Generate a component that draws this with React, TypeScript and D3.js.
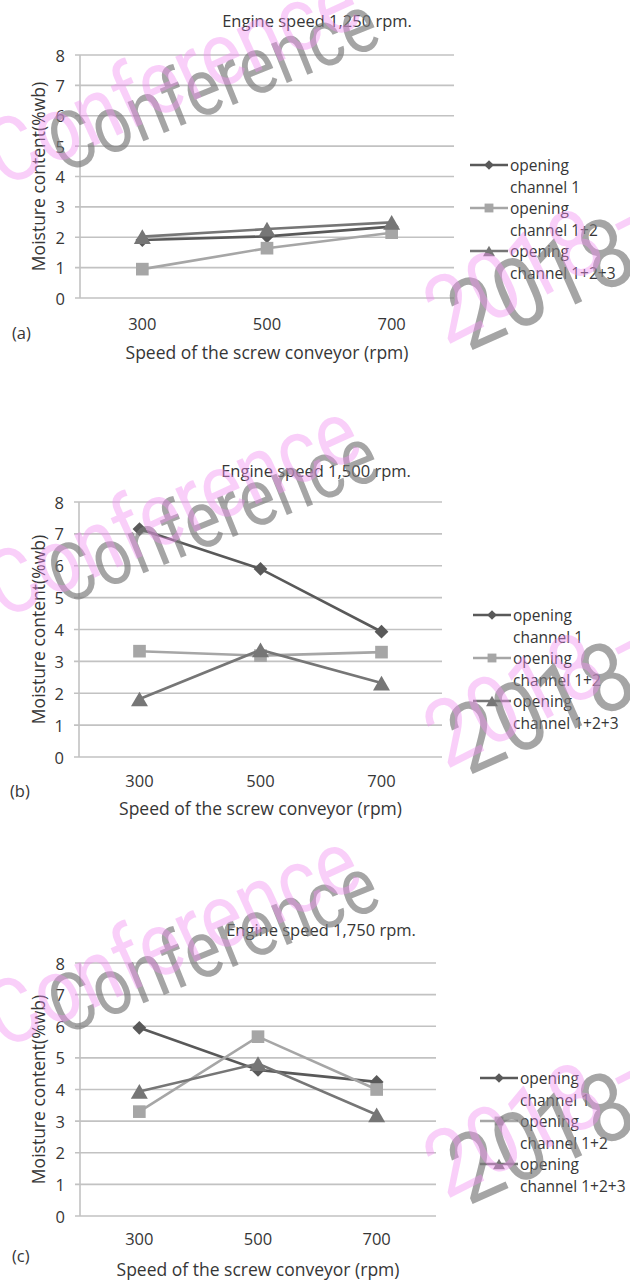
import React from 'react';
import * as d3 from 'd3';

// conveyor speeds (x categories)
const speeds = ['300', '500', '700'];
const yTicks = [0, 1, 2, 3, 4, 5, 6, 7, 8];
const legendLabels = [
  ['opening', 'channel 1'],
  ['opening', 'channel 1+2'],
  ['opening', 'channel 1+2+3'],
];

// moisture content (%wb), engine speed 1,250 rpm
const ch1At1250 = [1.91, 2.03, 2.35];
const ch12At1250 = [0.95, 1.64, 2.15];
const ch123At1250 = [2.02, 2.27, 2.49];

// engine speed 1,500 rpm
const ch1At1500 = [7.15, 5.9, 3.93];
const ch12At1500 = [3.32, 3.18, 3.29];
const ch123At1500 = [1.82, 3.36, 2.32];

// engine speed 1,750 rpm
const ch1At1750 = [5.95, 4.62, 4.24];
const ch12At1750 = [3.3, 5.67, 4.0];
const ch123At1750 = [3.94, 4.82, 3.2];

const W = 630;
const H = 1281;
const FONT = '"Open Sans", "DejaVu Sans", sans-serif';
const WM_FONT = 'Roboto, "Liberation Sans", sans-serif';
const TEXT = '#363636';
const GRID = '#c2c2c2';
const colors = ['#595959', '#a6a6a6', '#767676'];
const shapes = ['diamond', 'square', 'triangle'];

const panels = [
  {
    title: 'Engine speed 1,250 rpm.', tag: '(a)',
    series: [ch1At1250, ch12At1250, ch123At1250],
    left: 80, right: 454, top: 55, bottom: 298,
    titleX: 317, titleY: 20, tagX: 12, tagY: 332,
    tickY: 323, axisTitleY: 352, legendX: 470, legendY: 165, wmY: 0, wm2Y: 0,
  },
  {
    title: 'Engine speed 1,500 rpm.', tag: '(b)',
    series: [ch1At1500, ch12At1500, ch123At1500],
    left: 79, right: 442, top: 502, bottom: 757,
    titleX: 316, titleY: 470, tagX: 10, tagY: 790,
    tickY: 780, axisTitleY: 808, legendX: 473, legendY: 615, wmY: 432, wm2Y: 424,
  },
  {
    title: 'Engine speed 1,750 rpm.', tag: '(c)',
    series: [ch1At1750, ch12At1750, ch123At1750],
    left: 80, right: 436, top: 963, bottom: 1216,
    titleX: 321, titleY: 929, tagX: 12, tagY: 1255,
    tickY: 1238, axisTitleY: 1269, legendX: 480, legendY: 1078, wmY: 862, wm2Y: 854,
  },
];

function marker(shape: string, k: number) {
  if (shape === 'diamond') {
    return { d: d3.symbol(d3.symbolSquare, 95 * k * k)()!, t: 'rotate(45)' };
  }
  if (shape === 'square') {
    return { d: d3.symbol(d3.symbolSquare, 160 * k * k)()!, t: '' };
  }
  const size = 125 * k * k;
  const r = Math.sqrt(size / (3 * Math.sqrt(3)));
  return { d: d3.symbol(d3.symbolTriangle, size)()!, t: `translate(0,${r / 2})` };
}

function Panel({ p }: { p: any }) {
  const x = d3.scalePoint<string>().domain(speeds).range([p.left, p.right]).padding(0.5);
  const y = d3.scaleLinear().domain([0, 8]).range([p.bottom, p.top]);
  const line = d3.line<number>().x((_, i) => x(speeds[i])!).y(d => y(d));

  return (
    <g>
      <text x={p.titleX} y={p.titleY} textAnchor="middle" dominantBaseline="central"
        fontSize={16.5} fill={TEXT}>{p.title}</text>

      {yTicks.map(t => (
        <g key={t}>
          <line x1={p.left - 5} x2={p.right} y1={y(t)} y2={y(t)} stroke={GRID} strokeWidth={1.6} />
          <text x={p.left - 15} y={y(t)} textAnchor="end" dominantBaseline="central"
            fontSize={16.5} fill={TEXT}>{t}</text>
        </g>
      ))}
      <line x1={p.left} x2={p.left} y1={y(8)} y2={y(0)} stroke={GRID} strokeWidth={1.6} />

      {speeds.map(s => (
        <text key={s} x={x(s)} y={p.tickY} textAnchor="middle" dominantBaseline="central"
          fontSize={16.5} fill={TEXT}>{s}</text>
      ))}

      <text x={(p.left + p.right) / 2} y={p.axisTitleY} textAnchor="middle" dominantBaseline="central"
        fontSize={17.5} fill={TEXT}>Speed of the screw conveyor (rpm)</text>
      <text transform={`translate(38,${(p.top + p.bottom) / 2}) rotate(-90)`} textAnchor="middle"
        dominantBaseline="central" fontSize={17.5} fill={TEXT}>Moisture content(%wb)</text>
      <text x={p.tagX} y={p.tagY} dominantBaseline="central" fontSize={16.5} fill={TEXT}>{p.tag}</text>

      {p.series.map((vals: number[], si: number) => {
        const m = marker(shapes[si], 1);
        return (
          <g key={si}>
            <path d={line(vals)!} fill="none" stroke={colors[si]} strokeWidth={2.6} />
            {vals.map((v, i) => (
              <g key={i} transform={`translate(${x(speeds[i])},${y(v)})`}>
                <path d={m.d} transform={m.t} fill={colors[si]} />
              </g>
            ))}
          </g>
        );
      })}

      {legendLabels.map((lab, i) => {
        const ly = p.legendY + i * 43;
        const m = marker(shapes[i], 0.7);
        return (
          <g key={i}>
            <line x1={p.legendX} x2={p.legendX + 38} y1={ly} y2={ly} stroke={colors[i]} strokeWidth={2.6} />
            <g transform={`translate(${p.legendX + 19},${ly})`}>
              <path d={m.d} transform={m.t} fill={colors[i]} />
            </g>
            <text x={p.legendX + 40} y={ly} dominantBaseline="central" fontSize={15.5} fill={TEXT}>{lab[0]}</text>
            <text x={p.legendX + 40} y={ly + 21.5} dominantBaseline="central" fontSize={15.5} fill={TEXT}>{lab[1]}</text>
          </g>
        );
      })}
    </g>
  );
}

function Watermark({ dy, dy2 }: { dy: number; dy2: number }) {
  const gray = '#7a7a7a';
  const pink = '#f08cf0';
  return (
    <g fontFamily={WM_FONT}>
      <g transform={`translate(0,${dy})`}>
        <text transform="translate(62,174) rotate(-22) scale(0.85,1)" fontSize={80}
          fill={gray} fillOpacity={0.68}>Conference</text>
        <text transform="translate(2,188) rotate(-24.5) scale(0.87,1)" fontSize={90}
          fill={pink} fillOpacity={0.42}>Conference</text>
      </g>
      <g transform={`translate(0,${dy2})`}>
        <text transform="translate(468,352) rotate(-24) scale(0.88,1)" fontSize={96}
          fill={gray} fillOpacity={0.68}>2018 -</text>
        <text transform="translate(446,346) rotate(-27) scale(0.88,1)" fontSize={93}
          fill={pink} fillOpacity={0.42}>2018 -</text>
      </g>
    </g>
  );
}

export default function App() {
  return (
    <svg width={W} height={H} style={{ position: 'absolute', left: 0, top: 0, background: '#fff' }}
      fontFamily={FONT}>
      <rect width={W} height={H} fill="#fff" />
      {panels.map((p, i) => <Panel key={i} p={p} />)}
      {panels.map((p, i) => <Watermark key={i} dy={p.wmY} dy2={p.wm2Y} />)}
    </svg>
  );
}
